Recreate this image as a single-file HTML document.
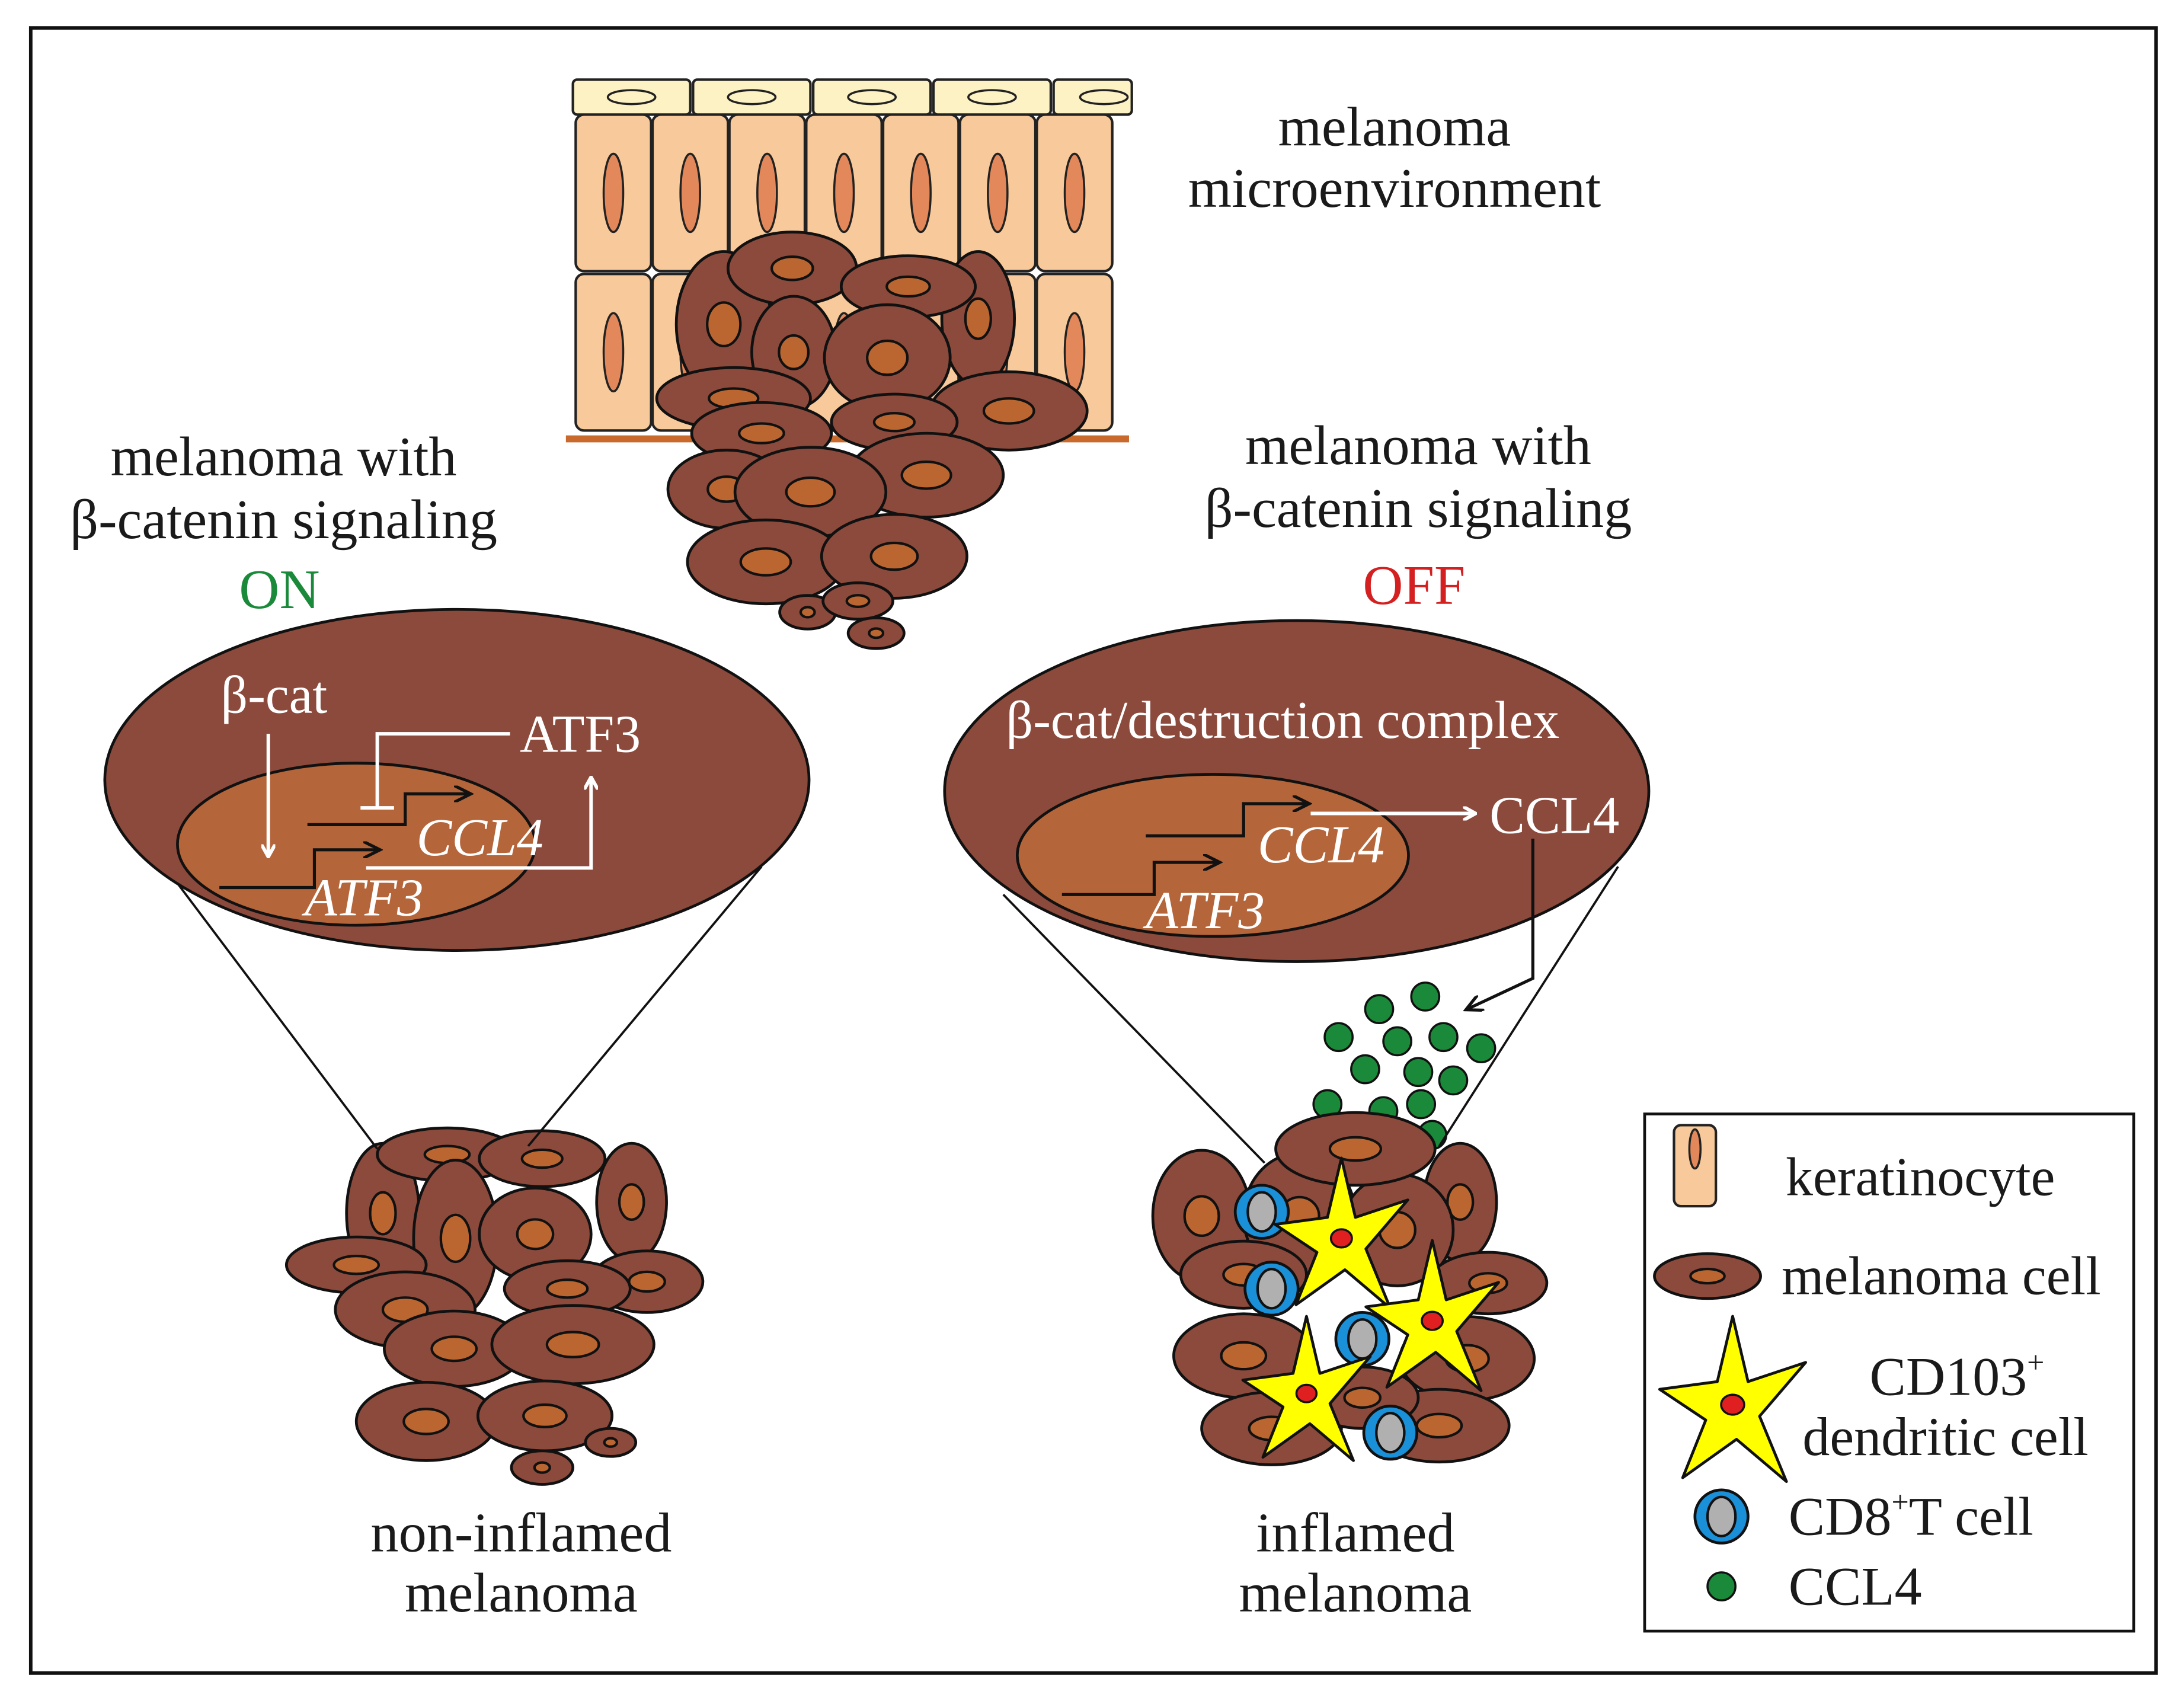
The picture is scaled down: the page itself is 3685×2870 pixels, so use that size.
<!DOCTYPE html>
<html><head><meta charset="utf-8">
<style>
html,body{margin:0;padding:0;background:#fff;}
svg{display:block;}
text{font-family:"Liberation Serif",serif;}
</style></head>
<body>
<svg id="s" width="3685" height="2870" viewBox="0 0 1563 1217" preserveAspectRatio="none" xmlns="http://www.w3.org/2000/svg">
<defs>
<marker id="aw" markerWidth="10" markerHeight="10" refX="8" refY="5" orient="auto" markerUnits="userSpaceOnUse"><path d="M0,0 L9,5 L0,10" fill="none" stroke="#fff" stroke-width="2.5"/></marker>
<marker id="ab" markerWidth="14" markerHeight="12" refX="11" refY="6" orient="auto" markerUnits="userSpaceOnUse"><path d="M0,0 L12,6 L0,12" fill="none" stroke="#111" stroke-width="2.2"/></marker>
</defs>
<rect x="0" y="0" width="1563" height="1217" fill="#fff"/>
<rect x="22" y="20" width="1521" height="1177" fill="none" stroke="#111" stroke-width="2.5"/>
<g id="cells"></g>
<g id="over"></g>

<g font-size="40" fill="#1a1a1a" text-anchor="middle">
<text x="998" y="104">melanoma</text>
<text x="998" y="148">microenvironment</text>
<text x="203" y="340">melanoma with</text>
<text x="203" y="385">β-catenin signaling</text>
<text x="200" y="435" fill="#1a8a3a">ON</text>
<text x="1015" y="332">melanoma with</text>
<text x="1015" y="377">β-catenin signaling</text>
<text x="1012" y="432" fill="#d42020">OFF</text>
<text x="373" y="1110">non-inflamed</text>
<text x="373" y="1153">melanoma</text>
<text x="970" y="1110">inflamed</text>
<text x="970" y="1153">melanoma</text>
</g>
<g font-size="39" fill="#1a1a1a">
<text x="1278" y="855">keratinocyte</text>
<text x="1275" y="926">melanoma cell</text>
<text x="1338" y="998">CD103<tspan font-size="22" dy="-16">+</tspan></text>
<text x="1290" y="1041">dendritic cell</text>
<text x="1280" y="1098">CD8<tspan font-size="22" dy="-16">+</tspan><tspan dy="16">T cell</tspan></text>
<text x="1280" y="1148">CCL4</text>
</g>
<g font-size="38" fill="#fff">
<text x="158" y="510">β-cat</text>
<text x="372" y="538">ATF3</text>
<text x="298" y="612" font-style="italic">CCL4</text>
<text x="218" y="655" font-style="italic">ATF3</text>
<text x="720" y="528">β-cat/destruction complex</text>
<text x="900" y="617" font-style="italic">CCL4</text>
<text x="820" y="664" font-style="italic">ATF3</text>
<text x="1066" y="596">CCL4</text>
</g>
</svg>
<script>
var NS="http://www.w3.org/2000/svg";
var cells=document.getElementById('cells'), over=document.getElementById('over');
function el(p,t,a){var e=document.createElementNS(NS,t);for(var k in a)e.setAttribute(k,a[k]);p.appendChild(e);return e;}
var BR="#8b4a3c",NU="#bb6630";
function mel(p,cx,cy,rx,ry){el(p,'ellipse',{cx:cx,cy:cy,rx:rx,ry:ry,fill:BR,stroke:"#111","stroke-width":2});
 var nrx=Math.max(rx*0.32,5),nry=Math.max(ry*0.32,4); if(ry>rx){nrx=rx*0.35;nry=ry*0.3;} if(rx<25&&ry<15){nrx=rx*0.25;nry=ry*0.3;}
 el(p,'ellipse',{cx:cx,cy:cy,rx:nrx,ry:nry,fill:NU,stroke:"#111","stroke-width":1.8});}
var cols=[412,467,522,577,632,687,742];
for(var r=0;r<2;r++)for(var i=0;i<7;i++){var x=cols[i],y=r?196:82;
 el(cells,'rect',{x:x,y:y,width:54,height:112,rx:6,fill:"#f8c99a",stroke:"#222","stroke-width":1.8});
 el(cells,'ellipse',{cx:x+27,cy:y+56,rx:7,ry:28,fill:"#e3885a",stroke:"#222","stroke-width":1.5});}
for(var i=0;i<5;i++){var x=410+i*86;el(cells,'rect',{x:x,y:57,width:i==4?56:84,height:25,rx:3,fill:"#fdf2c4",stroke:"#222","stroke-width":1.8});
 el(cells,'ellipse',{cx:x+(i==4?36:42),cy:69.5,rx:17,ry:5,fill:"#fdf2c4",stroke:"#222","stroke-width":1.5});}
el(cells,'line',{x1:405,y1:314,x2:808,y2:314,stroke:"#c96a2c","stroke-width":5});
[[518,232,34,52],[700,228,26,48],[567,192,46,26],[650,205,48,22],[568,252,30,40],[635,256,45,38],[525,285,55,22],[722,294,56,28],[640,302,45,20],[545,310,50,22],[520,350,42,28],[663,340,55,30],[580,352,54,32],[548,402,56,30],[640,398,52,30],[578,438,20,12],[614,430,25,13],[627,453,20,11]].forEach(function(c){mel(cells,c[0],c[1],c[2],c[3]);});
[[274,868,26,50],[452,860,25,42],[320,826,50,19],[388,829,45,20],[326,886,30,56],[255,905,50,20],[463,917,40,22],[383,883,40,33],[406,922,45,20],[290,937,50,27],[325,965,50,27],[410,962,58,28],[305,1017,50,28],[390,1013,48,25],[437,1032,18,10],[388,1050,22,12]].forEach(function(c){mel(cells,c[0],c[1],c[2],c[3]);});
[[987,722],[1020,713],[958,742],[1000,745],[1033,742],[1060,750],[977,765],[1015,767],[1040,773],[950,790],[990,795],[1017,790],[1025,812]].forEach(function(d){el(cells,'circle',{cx:d[0],cy:d[1],r:10,fill:"#1a8a3a",stroke:"#111","stroke-width":1.5});});
[[860,870,35,47],[1045,860,26,42],[930,870,40,45],[1000,880,40,40],[1065,918,42,22],[890,912,45,24],[970,822,57,26],[890,970,50,30],[1050,972,48,30],[910,1022,50,26],[1030,1020,50,26],[975,1000,40,22]].forEach(function(c){mel(cells,c[0],c[1],c[2],c[3]);});
function star(p,cx,cy,s){var pts=[[0,-1.15],[0.2,-0.3],[0.95,-0.55],[0.35,0.15],[0.7,1.0],[0.05,0.45],[-0.65,0.95],[-0.35,0.2],[-0.95,-0.2],[-0.2,-0.3]];
 el(p,'polygon',{points:pts.map(function(q){return (cx+q[0]*s)+','+(cy+q[1]*s);}).join(' '),fill:"#ffff00",stroke:"#111","stroke-width":2,"stroke-linejoin":"round"});
 el(p,'ellipse',{cx:cx,cy:cy,rx:s*0.15,ry:s*0.13,fill:"#e02020",stroke:"#111","stroke-width":1.5});}
function tc(p,cx,cy){el(p,'circle',{cx:cx,cy:cy,r:19,fill:"#1a90d8",stroke:"#111","stroke-width":2});el(p,'ellipse',{cx:cx,cy:cy,rx:10,ry:14,fill:"#b0b0b0",stroke:"#111","stroke-width":1.8});}
tc(cells,903,867);tc(cells,910,922);tc(cells,975,958);tc(cells,995,1025);
star(cells,960,886,50);star(cells,1025,945,50);star(cells,935,997,48);
[[118,620,270,822],[545,620,378,820],[718,640,905,832],[1158,620,1030,820]].forEach(function(l){el(over,'line',{x1:l[0],y1:l[1],x2:l[2],y2:l[3],stroke:"#111","stroke-width":1.6});});
el(over,'ellipse',{cx:327,cy:558,rx:252,ry:122,fill:BR,stroke:"#111","stroke-width":2});
el(over,'ellipse',{cx:255,cy:604,rx:128,ry:58,fill:"#b5653a",stroke:"#111","stroke-width":2});
el(over,'ellipse',{cx:928,cy:566,rx:252,ry:122,fill:BR,stroke:"#111","stroke-width":2});
el(over,'ellipse',{cx:868,cy:612,rx:140,ry:58,fill:"#b5653a",stroke:"#111","stroke-width":2});
var W={stroke:"#fff","stroke-width":2.5,fill:"none"},K={stroke:"#111","stroke-width":2.2,fill:"none"};
function pth(d,a,m){var o={d:d};for(var k in a)o[k]=a[k];if(m)o['marker-end']=m;el(over,'path',o);}
pth("M192,525 L192,612",W,"url(#aw)");
pth("M365,525 L270,525 L270,578 M258,578 L282,578",W);
pth("M220,590 L290,590 L290,568 L336,568",K,"url(#ab)");
pth("M157,635 L225,635 L225,608 L271,608",K,"url(#ab)");
pth("M262,621 L423,621 L423,557",W,"url(#aw)");
pth("M820,598 L890,598 L890,575 L936,575",K,"url(#ab)");
pth("M760,640 L826,640 L826,617 L872,617",K,"url(#ab)");
pth("M938,582 L1055,582",W,"url(#aw)");
pth("M1097,600 L1097,700 L1050,722",K,"url(#ab)");
var g=over;
el(g,'rect',{x:1177,y:797,width:350,height:370,fill:"none",stroke:"#111","stroke-width":2});
el(g,'rect',{x:1198,y:805,width:30,height:58,rx:5,fill:"#f8c99a",stroke:"#222","stroke-width":1.8});
el(g,'ellipse',{cx:1213,cy:822,rx:4,ry:14,fill:"#e3885a",stroke:"#222","stroke-width":1.5});
mel(g,1222,913,38,16);
star(g,1240,1005,55);
tc(g,1232,1085);
el(g,'circle',{cx:1232,cy:1135,r:10,fill:"#1a8a3a",stroke:"#111","stroke-width":1.5});
</script>
</body></html>
